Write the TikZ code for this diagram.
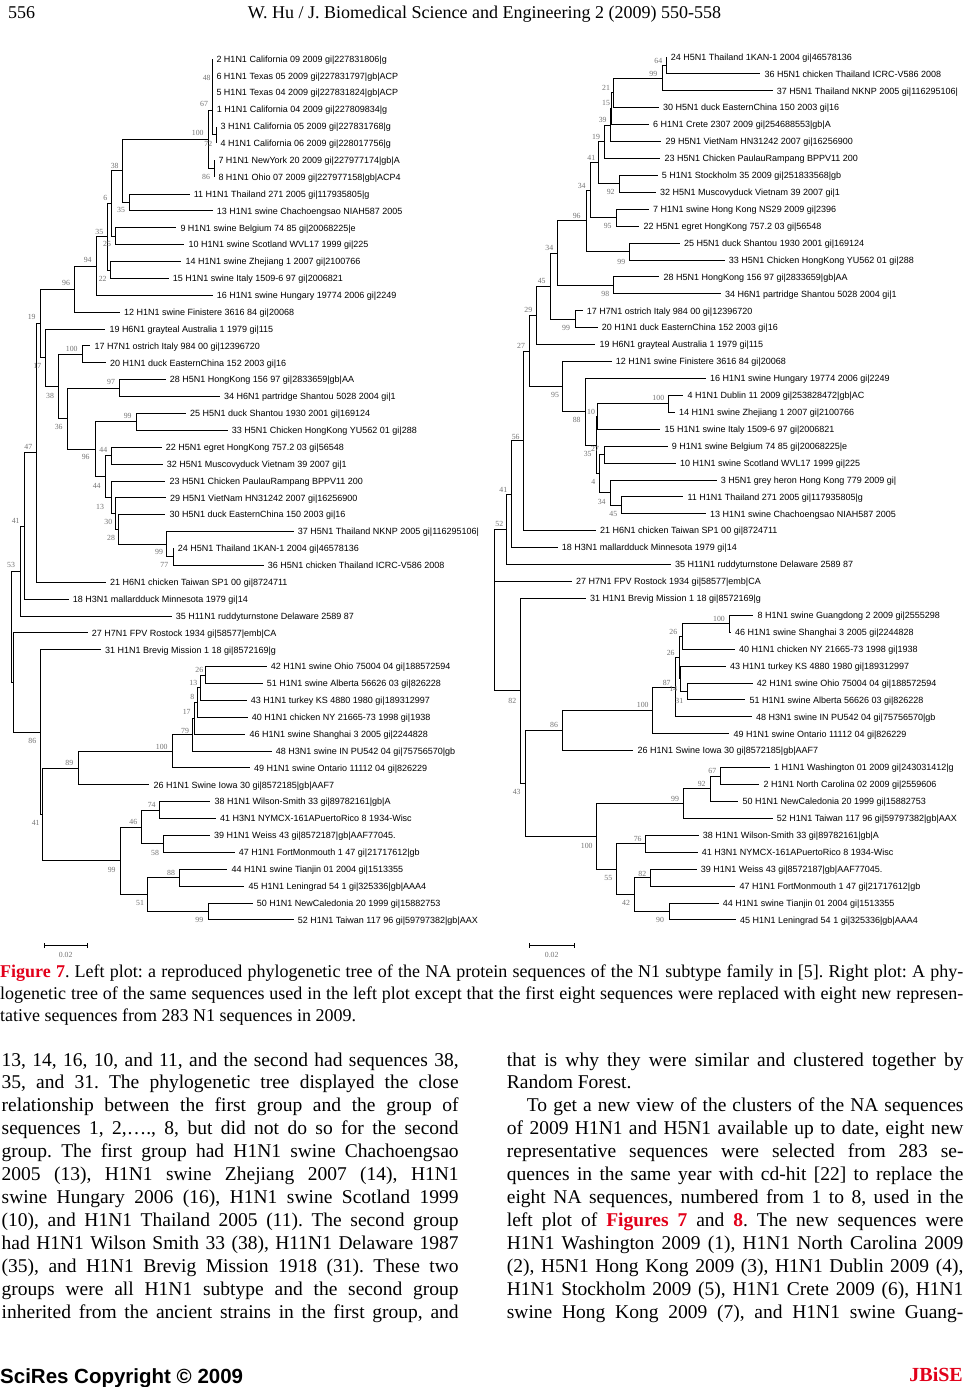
\documentclass[tikz,border=0pt]{standalone}
\usepackage{fontspec}
\usepackage{graphicx}
\setmainfont{Liberation Serif}
\newfontfamily\arialf{Liberation Sans}
\definecolor{jred}{RGB}{226,0,26}
\definecolor{bsgray}{RGB}{115,115,115}
\newsavebox\lbox
\newcommand\jline[2]{\sbox\lbox{#2}\ifdim\wd\lbox>#1\relax\resizebox{#1}{\height}{\usebox\lbox}\else\makebox[#1][s]{#2}\fi}
\newcounter{bsn}
\newcommand\LF[4]{\coordinate (#1) at (#2,#3); \node[lf] (#1t) at (#1) {#4};}
\newcommand\IN[3]{\coordinate (#1) at (#2,#3);}
\newcommand\ED[2]{\foreach \kid in {#2}{\draw[br] (#1) |- (\kid);}}
\newcommand\BS[3]{\stepcounter{bsn}\node[bs] (bs\thebsn) at (#1,#2) {#3};}
\tikzset{
 br/.style={line width=1pt, black},
 lf/.style={anchor=west, inner sep=0pt, xshift=4pt, font=\arialf\fontsize{9}{10}\selectfont, text height=6.45pt, text depth=0pt},
 bs/.style={inner sep=0pt, font=\fontsize{7.8}{8}\selectfont, text=bsgray, text height=5.3pt, text depth=0pt},
 body/.style={anchor=base west, inner sep=0pt, font=\fontsize{19.5}{23}\selectfont},
 capt/.style={anchor=base west, inner sep=0pt, font=\fontsize{18}{22}\selectfont},
}
\begin{document}
\frenchspacing
\begin{tikzpicture}[x=1pt,y=-1pt]
\fill[white] (0,0) rectangle (965,1387);
\useasboundingbox (0,0) rectangle (965,1387);

% ---------------- header
\node[anchor=base west, inner sep=0pt, font=\fontsize{18}{20}\selectfont] (pgno) at (8,18) {556};
\node[anchor=base, inner sep=0pt, font=\fontsize{18}{20}\selectfont] (hdr) at (484.5,18) {W. Hu / J. Biomedical Science and Engineering 2 (2009) 550-558};

% ---------------- left tree leaves
\LF{l1}{212.3}{59}{2 H1N1 California 09 2009 gi|227831806|g}
\LF{l2}{212.3}{75.88}{6 H1N1 Texas 05 2009 gi|227831797|gb|ACP}
\LF{l3}{212.3}{92.76}{5 H1N1 Texas 04 2009 gi|227831824|gb|ACP}
\LF{l4}{212.7}{109.64}{1 H1N1 California 04 2009 gi|227809834|g}
\LF{l5}{216.5}{126.52}{3 H1N1 California 05 2009 gi|227831768|g}
\LF{l6}{216.5}{143.4}{4 H1N1 California 06 2009 gi|228017756|g}
\LF{l7}{214.3}{160.28}{7 H1N1 NewYork 20 2009 gi|227977174|gb|A}
\LF{l8}{214.3}{177.16}{8 H1N1 Ohio 07 2009 gi|227977158|gb|ACP4}
\LF{l9}{189.7}{194.04}{11 H1N1 Thailand 271 2005 gi|117935805|g}
\LF{l10}{212.7}{210.92}{13 H1N1 swine Chachoengsao NIAH587 2005}
\LF{l11}{176.3}{227.8}{9 H1N1 swine Belgium 74 85 gi|20068225|e}
\LF{l12}{184.3}{244.68}{10 H1N1 swine Scotland WVL17 1999 gi|225}
\LF{l13}{181.3}{261.56}{14 H1N1 swine Zhejiang 1 2007 gi|2100766}
\LF{l14}{168.7}{278.44}{15 H1N1 swine Italy 1509-6 97 gi|2006821}
\LF{l15}{212.7}{295.32}{16 H1N1 swine Hungary 19774 2006 gi|2249}
\LF{l16}{120}{312.2}{12 H1N1 swine Finistere 3616 84 gi|20068}
\LF{l17}{105.3}{329.08}{19 H6N1 grayteal Australia 1 1979 gi|115}
\LF{l18}{90.3}{345.96}{17 H7N1 ostrich Italy 984 00 gi|12396720}
\LF{l19}{106}{362.84}{20 H1N1 duck EasternChina 152 2003 gi|16}
\LF{l20}{165.7}{379.72}{28 H5N1 HongKong 156 97 gi|2833659|gb|AA}
\LF{l21}{220}{396.6}{34 H6N1 partridge Shantou 5028 2004 gi|1}
\LF{l22}{186}{413.48}{25 H5N1 duck Shantou 1930 2001 gi|169124}
\LF{l23}{227.7}{430.36}{33 H5N1 Chicken HongKong YU562 01 gi|288}
\LF{l24}{161.7}{447.24}{22 H5N1 egret HongKong 757.2 03 gi|56548}
\LF{l25}{162.7}{464.12}{32 H5N1 Muscovyduck Vietnam 39 2007 gi|1}
\LF{l26}{165.3}{481}{23 H5N1 Chicken PaulauRampang BPPV11 200}
\LF{l27}{166}{497.88}{29 H5N1 VietNam HN31242 2007 gi|16256900}
\LF{l28}{165.3}{514.76}{30 H5N1 duck EasternChina 150 2003 gi|16}
\LF{l29}{293.7}{531.64}{37 H5N1 Thailand NKNP 2005 gi|116295106|}
\LF{l30}{173.7}{548.52}{24 H5N1 Thailand 1KAN-1 2004 gi|46578136}
\LF{l31}{263.7}{565.4}{36 H5N1 chicken Thailand ICRC-V586 2008}
\LF{l32}{106}{582.28}{21 H6N1 chicken Taiwan SP1 00 gi|8724711}
\LF{l33}{68.7}{599.16}{18 H3N1 mallardduck Minnesota 1979 gi|14}
\LF{l34}{171.7}{616.04}{35 H11N1 ruddyturnstone Delaware 2589 87}
\LF{l35}{87.7}{632.92}{27 H7N1 FPV Rostock 1934 gi|58577|emb|CA}
\LF{l36}{101}{649.8}{31 H1N1 Brevig Mission 1 18 gi|8572169|g}
\LF{l37}{266.7}{666.68}{42 H1N1 swine Ohio 75004 04 gi|188572594}
\LF{l38}{262.7}{683.56}{51 H1N1 swine Alberta 56626 03 gi|826228}
\LF{l39}{246.7}{700.44}{43 H1N1 turkey KS 4880 1980 gi|189312997}
\LF{l40}{247.7}{717.32}{40 H1N1 chicken NY 21665-73 1998 gi|1938}
\LF{l41}{245.3}{734.2}{46 H1N1 swine Shanghai 3 2005 gi|2244828}
\LF{l42}{271.7}{751.08}{48 H3N1 swine IN PU542 04 gi|75756570|gb}
\LF{l43}{250}{767.96}{49 H1N1 swine Ontario 11112 04 gi|826229}
\LF{l44}{149.3}{784.84}{26 H1N1 Swine Iowa 30 gi|8572185|gb|AAF7}
\LF{l45}{210.3}{801.72}{38 H1N1 Wilson-Smith 33 gi|89782161|gb|A}
\LF{l46}{216}{818.6}{41 H3N1 NYMCX-161APuertoRico 8 1934-Wisc}
\LF{l47}{210}{835.48}{39 H1N1 Weiss 43 gi|8572187|gb|AAF77045.}
\LF{l48}{234.7}{852.36}{47 H1N1 FortMonmouth 1 47 gi|21717612|gb}
\LF{l49}{227.3}{869.24}{44 H1N1 swine Tianjin 01 2004 gi|1513355}
\LF{l50}{244.3}{886.12}{45 H1N1 Leningrad 54 1 gi|325336|gb|AAA4}
\LF{l51}{252.7}{903}{50 H1N1 NewCaledonia 20 1999 gi|15882753}
\LF{l52}{293.7}{919.88}{52 H1N1 Taiwan 117 96 gi|59797382|gb|AAX}

% left internal nodes
\IN{La72}{216.5}{134.96}
\IN{La67}{212.3}{110}
\IN{La86}{214.3}{168.72}
\IN{La100}{208.3}{139.36}
\IN{Lb35}{129.3}{202.48}
\IN{La38}{122.7}{170.92}
\IN{La25}{115.3}{236.24}
\IN{La6}{111.7}{203.58}
\IN{La22}{110.3}{270}
\IN{Lc35}{107.3}{236.79}
\IN{La94}{96.3}{266.06}
\IN{La96}{74}{289.13}
\IN{Lb100}{82.7}{354.4}
\IN{La97}{119.3}{388.16}
\IN{La99}{136.7}{421.92}
\IN{La44}{111}{455.68}
\IN{La77}{173.3}{556.96}
\IN{Lb99}{166}{544.3}
\IN{La28}{118.3}{529.53}
\IN{La30}{115.7}{513.7}
\IN{La13}{111}{497.35}
\IN{Lb44}{105.3}{476.52}
\IN{Lb96}{95}{449.22}
\IN{La36}{67.3}{418.69}
\IN{Lb38}{58.7}{386.55}
\IN{La17}{45.3}{357.82}
\IN{La19}{40.7}{323.47}
\IN{La47}{36}{452.88}
\IN{La41}{24.3}{526.02}
\IN{La53}{20}{571.03}
\IN{La26}{205.3}{675.12}
\IN{Lb13}{200.3}{687.78}
\IN{La8}{197.7}{702.55}
\IN{Lb17}{194.3}{718.38}
\IN{La79}{192.7}{734.73}
\IN{Lc100}{172.3}{751.35}
\IN{La89}{78.3}{768.1}
\IN{La74}{159.3}{810.16}
\IN{La58}{163.3}{843.92}
\IN{La46}{141.7}{827.04}
\IN{La88}{179.3}{877.68}
\IN{Ld99}{208.3}{911.44}
\IN{La51}{147.3}{894.56}
\IN{Lc99}{120.3}{860.8}
\IN{Lb41}{42}{814.45}
\IN{Lb86}{40.7}{732.13}
\IN{Lx}{13.3}{682.52}
\IN{Lroot}{11.7}{626.78}

\ED{La72}{l5,l6}
\ED{La67}{l1,l2,l3,l4,La72}
\ED{La86}{l7,l8}
\ED{La100}{La67,La86}
\ED{Lb35}{l9,l10}
\ED{La38}{La100,Lb35}
\ED{La25}{l11,l12}
\ED{La6}{La38,La25}
\ED{La22}{l13,l14}
\ED{Lc35}{La6,La22}
\ED{La94}{Lc35,l15}
\ED{La96}{La94,l16}
\ED{Lb100}{l18,l19}
\ED{La97}{l20,l21}
\ED{La99}{l22,l23}
\ED{La44}{l24,l25}
\ED{La77}{l30,l31}
\ED{Lb99}{l29,La77}
\ED{La28}{l28,Lb99}
\ED{La30}{l27,La28}
\ED{La13}{l26,La30}
\ED{Lb44}{La44,La13}
\ED{Lb96}{La99,Lb44}
\ED{La36}{La97,Lb96}
\ED{Lb38}{Lb100,La36}
\ED{La17}{l17,Lb38}
\ED{La19}{La96,La17}
\ED{La47}{La19,l32}
\ED{La41}{La47,l33}
\ED{La53}{La41,l34}
\ED{La26}{l37,l38}
\ED{Lb13}{La26,l39}
\ED{La8}{Lb13,l40}
\ED{Lb17}{La8,l41}
\ED{La79}{Lb17,l42}
\ED{Lc100}{La79,l43}
\ED{La89}{Lc100,l44}
\ED{La74}{l45,l46}
\ED{La58}{l47,l48}
\ED{La46}{La74,La58}
\ED{La88}{l49,l50}
\ED{Ld99}{l51,l52}
\ED{La51}{La88,Ld99}
\ED{Lc99}{La46,La51}
\ED{Lb41}{La89,Lc99}
\ED{Lb86}{l36,Lb41}
\ED{Lx}{l35,Lb86}
\ED{Lroot}{La53,Lx}

% left bootstrap values
\BS{206.7}{78.3}{48}
\BS{204}{104.3}{67}
\BS{197.7}{133.3}{100}
\BS{208.3}{143.7}{72}
\BS{206}{176.7}{86}
\BS{114.7}{165.7}{38}
\BS{121}{210}{35}
\BS{105.3}{198.3}{6}
\BS{99.3}{231.7}{35}
\BS{107}{244}{25}
\BS{87.7}{260}{94}
\BS{102.7}{279}{22}
\BS{66}{283.3}{96}
\BS{31.7}{317.3}{19}
\BS{37.3}{365.7}{17}
\BS{71.7}{349}{100}
\BS{50}{395.7}{38}
\BS{58.7}{427.3}{36}
\BS{111}{382.3}{97}
\BS{127.7}{416.3}{99}
\BS{85.7}{457.3}{96}
\BS{103.3}{450.3}{44}
\BS{96.7}{486}{44}
\BS{28.3}{447.3}{47}
\BS{100}{507.3}{13}
\BS{108.3}{522.3}{30}
\BS{111}{537.7}{28}
\BS{159}{552.3}{99}
\BS{164.3}{565}{77}
\BS{15.7}{520.7}{41}
\BS{11}{565}{53}
\BS{199.3}{670}{26}
\BS{193.3}{682.7}{13}
\BS{192.3}{697.3}{8}
\BS{186.7}{711.7}{17}
\BS{185}{730.7}{79}
\BS{161.7}{746.7}{100}
\BS{32.3}{741}{86}
\BS{69.3}{763.3}{89}
\BS{35.7}{823.3}{41}
\BS{151.7}{805}{74}
\BS{133.3}{822.3}{46}
\BS{155}{852.7}{58}
\BS{111.7}{870.3}{99}
\BS{171}{873.3}{88}
\BS{140}{903.3}{51}
\BS{199.3}{920}{99}

% left scale bar
\coordinate (sbL1) at (44.3,945.7);
\coordinate (sbL2) at (87.3,945.7);
\draw[br] (sbL1) -- (sbL2);
\draw[br] ([yshift=2.5pt]sbL1) -- ([yshift=-2.5pt]sbL1);
\draw[br] ([yshift=2.5pt]sbL2) -- ([yshift=-2.5pt]sbL2);
\node[bs] (sbLt) at (65.7,955) {0.02};

% ---------------- right tree leaves
\LF{r1}{666.7}{57}{24 H5N1 Thailand 1KAN-1 2004 gi|46578136}
\LF{r2}{760.3}{73.92}{36 H5N1 chicken Thailand ICRC-V586 2008}
\LF{r3}{772.7}{90.84}{37 H5N1 Thailand NKNP 2005 gi|116295106|}
\LF{r4}{659}{107.76}{30 H5N1 duck EasternChina 150 2003 gi|16}
\LF{r5}{649}{124.68}{6 H1N1 Crete 2307 2009 gi|254688553|gb|A}
\LF{r6}{661.3}{141.6}{29 H5N1 VietNam HN31242 2007 gi|16256900}
\LF{r7}{660.3}{158.52}{23 H5N1 Chicken PaulauRampang BPPV11 200}
\LF{r8}{657.7}{175.44}{5 H1N1 Stockholm 35 2009 gi|251833568|gb}
\LF{r9}{656}{192.36}{32 H5N1 Muscovyduck Vietnam 39 2007 gi|1}
\LF{r10}{649}{209.28}{7 H1N1 swine Hong Kong NS29 2009 gi|2396}
\LF{r11}{639.3}{226.2}{22 H5N1 egret HongKong 757.2 03 gi|56548}
\LF{r12}{680}{243.12}{25 H5N1 duck Shantou 1930 2001 gi|169124}
\LF{r13}{724.7}{260.04}{33 H5N1 Chicken HongKong YU562 01 gi|288}
\LF{r14}{659.3}{276.96}{28 H5N1 HongKong 156 97 gi|2833659|gb|AA}
\LF{r15}{721}{293.88}{34 H6N1 partridge Shantou 5028 2004 gi|1}
\LF{r16}{582.7}{310.8}{17 H7N1 ostrich Italy 984 00 gi|12396720}
\LF{r17}{597.7}{327.72}{20 H1N1 duck EasternChina 152 2003 gi|16}
\LF{r18}{595.3}{344.64}{19 H6N1 grayteal Australia 1 1979 gi|115}
\LF{r19}{611.7}{361.56}{12 H1N1 swine Finistere 3616 84 gi|20068}
\LF{r20}{706}{378.48}{16 H1N1 swine Hungary 19774 2006 gi|2249}
\LF{r21}{683.3}{395.4}{4 H1N1 Dublin 11 2009 gi|253828472|gb|AC}
\LF{r22}{675}{412.32}{14 H1N1 swine Zhejiang 1 2007 gi|2100766}
\LF{r23}{660.3}{429.24}{15 H1N1 swine Italy 1509-6 97 gi|2006821}
\LF{r24}{667.7}{446.16}{9 H1N1 swine Belgium 74 85 gi|20068225|e}
\LF{r25}{676}{463.08}{10 H1N1 swine Scotland WVL17 1999 gi|225}
\LF{r26}{716.7}{480}{3 H5N1 grey heron Hong Kong 779 2009 gi|}
\LF{r27}{683.3}{496.92}{11 H1N1 Thailand 271 2005 gi|117935805|g}
\LF{r28}{706}{513.84}{13 H1N1 swine Chachoengsao NIAH587 2005}
\LF{r29}{596}{530.76}{21 H6N1 chicken Taiwan SP1 00 gi|8724711}
\LF{r30}{557.7}{547.68}{18 H3N1 mallardduck Minnesota 1979 gi|14}
\LF{r31}{671}{564.6}{35 H11N1 ruddyturnstone Delaware 2589 87}
\LF{r32}{572}{581.52}{27 H7N1 FPV Rostock 1934 gi|58577|emb|CA}
\LF{r33}{586}{598.44}{31 H1N1 Brevig Mission 1 18 gi|8572169|g}
\LF{r34}{753.3}{615.36}{8 H1N1 swine Guangdong 2 2009 gi|2555298}
\LF{r35}{731}{632.28}{46 H1N1 swine Shanghai 3 2005 gi|2244828}
\LF{r36}{735}{649.2}{40 H1N1 chicken NY 21665-73 1998 gi|1938}
\LF{r37}{726}{666.12}{43 H1N1 turkey KS 4880 1980 gi|189312997}
\LF{r38}{752.7}{683.04}{42 H1N1 swine Ohio 75004 04 gi|188572594}
\LF{r39}{745.3}{699.96}{51 H1N1 swine Alberta 56626 03 gi|826228}
\LF{r40}{752}{716.88}{48 H3N1 swine IN PU542 04 gi|75756570|gb}
\LF{r41}{729.3}{733.8}{49 H1N1 swine Ontario 11112 04 gi|826229}
\LF{r42}{633.3}{750.72}{26 H1N1 Swine Iowa 30 gi|8572185|gb|AAF7}
\LF{r43}{770}{767.64}{1 H1N1 Washington 01 2009 gi|243031412|g}
\LF{r44}{759.3}{784.56}{2 H1N1 North Carolina 02 2009 gi|2559606}
\LF{r45}{738.3}{801.48}{50 H1N1 NewCaledonia 20 1999 gi|15882753}
\LF{r46}{772.7}{818.4}{52 H1N1 Taiwan 117 96 gi|59797382|gb|AAX}
\LF{r47}{698.7}{835.32}{38 H1N1 Wilson-Smith 33 gi|89782161|gb|A}
\LF{r48}{697.7}{852.24}{41 H3N1 NYMCX-161APuertoRico 8 1934-Wisc}
\LF{r49}{696.7}{869.16}{39 H1N1 Weiss 43 gi|8572187|gb|AAF77045.}
\LF{r50}{735.3}{886.08}{47 H1N1 FortMonmouth 1 47 gi|21717612|gb}
\LF{r51}{718.7}{903}{44 H1N1 swine Tianjin 01 2004 gi|1513355}
\LF{r52}{736}{919.92}{45 H1N1 Leningrad 54 1 gi|325336|gb|AAA4}

% right internal nodes
\IN{Ra64}{666}{65.46}
\IN{Ra99}{662.3}{78.15}
\IN{Ra21}{613.3}{92.96}
\IN{Ra15}{611.7}{108.82}
\IN{Ra39}{610.7}{125.21}
\IN{Ra19}{604.3}{141.87}
\IN{Ra92}{619.3}{183.9}
\IN{Ra41}{598.3}{162.89}
\IN{Ra95}{616.7}{217.74}
\IN{Ra34}{590}{190.32}
\IN{Rb99}{629.3}{251.58}
\IN{Ra96}{586}{220.95}
\IN{Ra98}{613.3}{285.42}
\IN{Rb34}{557.3}{253.19}
\IN{Rc99}{575}{319.26}
\IN{Ra45}{550}{286.23}
\IN{Ra29}{536.7}{315.43}
\IN{Ra100}{668.3}{403.86}
\IN{Ra10}{597.3}{416.55}
\IN{Ra27}{604.3}{454.62}
\IN{Rb45}{621.7}{505.38}
\IN{Rc34}{610}{492.69}
\IN{Ra4}{599.3}{473.66}
\IN{Ra35}{596.3}{445.1}
\IN{Ra88}{585.3}{411.79}
\IN{Rb95}{562.7}{386.68}
\IN{Rb27}{529.3}{351.05}
\IN{Ra56}{523.3}{440.9}
\IN{Rb41}{511.7}{494.29}
\IN{Ra52}{506}{529.45}
\IN{Rb100}{729.3}{623.82}
\IN{Ra26}{682.3}{636.51}
\IN{Ra31}{687.3}{691.5}
\IN{Ra14}{680}{678.81}
\IN{Rb26}{679}{657.66}
\IN{Ra87}{675}{687.27}
\IN{Rc100}{652.3}{710.54}
\IN{Ra86}{562.7}{730.63}
\IN{Ra67}{720}{776.1}
\IN{Rb92}{710}{788.79}
\IN{Rd99}{683.3}{803.6}
\IN{Ra76}{645.7}{843.78}
\IN{Ra82}{650.7}{877.62}
\IN{Ra90}{669.3}{911.46}
\IN{Ra42}{634.3}{894.54}
\IN{Ra55}{616.7}{869.16}
\IN{Rd100}{596}{836.38}
\IN{Ra43}{525.7}{783.5}
\IN{Rb82}{520.7}{690.97}
\IN{Rroot}{494.3}{610}

\ED{Ra64}{r1,r2}
\ED{Ra99}{Ra64,r3}
\ED{Ra21}{Ra99,r4}
\ED{Ra15}{Ra21,r5}
\ED{Ra39}{Ra15,r6}
\ED{Ra19}{Ra39,r7}
\ED{Ra92}{r8,r9}
\ED{Ra41}{Ra19,Ra92}
\ED{Ra95}{r10,r11}
\ED{Ra34}{Ra41,Ra95}
\ED{Rb99}{r12,r13}
\ED{Ra96}{Ra34,Rb99}
\ED{Ra98}{r14,r15}
\ED{Rb34}{Ra96,Ra98}
\ED{Rc99}{r16,r17}
\ED{Ra45}{Rb34,Rc99}
\ED{Ra29}{Ra45,r18}
\ED{Ra100}{r21,r22}
\ED{Ra10}{Ra100,r23}
\ED{Ra27}{r24,r25}
\ED{Rb45}{r27,r28}
\ED{Rc34}{r26,Rb45}
\ED{Ra4}{Ra27,Rc34}
\ED{Ra35}{Ra10,Ra4}
\ED{Ra88}{r20,Ra35}
\ED{Rb95}{r19,Ra88}
\ED{Rb27}{Ra29,Rb95}
\ED{Ra56}{Rb27,r29}
\ED{Rb41}{Ra56,r30}
\ED{Ra52}{Rb41,r31}
\ED{Rb100}{r34,r35}
\ED{Ra26}{Rb100,r36}
\ED{Ra31}{r38,r39}
\ED{Ra14}{r37,Ra31}
\ED{Rb26}{Ra26,Ra14}
\ED{Ra87}{Rb26,r40}
\ED{Rc100}{Ra87,r41}
\ED{Ra86}{Rc100,r42}
\ED{Ra67}{r43,r44}
\ED{Rb92}{Ra67,r45}
\ED{Rd99}{Rb92,r46}
\ED{Ra76}{r47,r48}
\ED{Ra82}{r49,r50}
\ED{Ra90}{r51,r52}
\ED{Ra42}{Ra82,Ra90}
\ED{Ra55}{Ra76,Ra42}
\ED{Rd100}{Rd99,Ra55}
\ED{Ra43}{Ra86,Rd100}
\ED{Rb82}{r33,Ra43}
\ED{Rroot}{Ra52,r32,Rb82}

% right bootstrap values
\BS{658.3}{60.7}{64}
\BS{653.3}{74.3}{99}
\BS{606}{87.7}{21}
\BS{606}{103.3}{15}
\BS{602.7}{120}{39}
\BS{596}{136.7}{19}
\BS{591.3}{157.7}{41}
\BS{610.7}{192.3}{92}
\BS{581.7}{185.7}{34}
\BS{607.7}{226}{95}
\BS{576.7}{216}{96}
\BS{621.3}{261.7}{99}
\BS{549.3}{248.3}{34}
\BS{605.3}{294.3}{98}
\BS{541.7}{281}{45}
\BS{566}{328.3}{99}
\BS{528.3}{310}{29}
\BS{521}{346}{27}
\BS{555}{395}{95}
\BS{576.7}{420}{88}
\BS{658.3}{398.3}{100}
\BS{591}{411.7}{10}
\BS{587.7}{454}{35}
\BS{595}{449}{27}
\BS{593.3}{482.3}{4}
\BS{601.7}{501.7}{34}
\BS{613.3}{514}{45}
\BS{515.7}{436.7}{56}
\BS{503.3}{490}{41}
\BS{499.3}{524.3}{52}
\BS{719}{619.3}{100}
\BS{673.3}{631.7}{26}
\BS{670.7}{653.3}{26}
\BS{666.7}{682.7}{87}
\BS{673.3}{689}{14}
\BS{679.3}{700.7}{31}
\BS{642.7}{705}{100}
\BS{512.3}{700.7}{82}
\BS{554}{725}{86}
\BS{516.7}{792.3}{43}
\BS{712.3}{771}{67}
\BS{701.7}{784.3}{92}
\BS{675}{799.3}{99}
\BS{586.7}{845.7}{100}
\BS{637.7}{839}{76}
\BS{608.3}{878.3}{55}
\BS{642.3}{874.3}{82}
\BS{626}{903.3}{42}
\BS{660}{920}{90}

% right scale bar
\coordinate (sbR1) at (529.3,945.7);
\coordinate (sbR2) at (574.3,945.7);
\draw[br] (sbR1) -- (sbR2);
\draw[br] ([yshift=2.5pt]sbR1) -- ([yshift=-2.5pt]sbR1);
\draw[br] ([yshift=2.5pt]sbR2) -- ([yshift=-2.5pt]sbR2);
\node[bs] (sbRt) at (551.7,955) {0.02};

% ---------------- caption
\node[capt] (cap1) at (0,977) {\jline{963pt}{\textcolor{jred}{\textbf{Figure 7}}. Left plot: a reproduced phylogenetic tree of the NA protein sequences of the N1 subtype family in [5]. Right plot: A phy-}};
\node[capt] (cap2) at (0,999) {\jline{963pt}{logenetic tree of the same sequences used in the left plot except that the first eight sequences were replaced with eight new represen-}};
\node[capt] (cap3) at (0,1021) {tative sequences from 283 N1 sequences in 2009.};

% ---------------- body text, left column
\node[body] (bl1) at (1.5,1066) {\jline{457pt}{13, 14, 16, 10, and 11, and the second had sequences 38,}};
\node[body] (bl2) at (1.5,1088.95) {\jline{457pt}{35, and 31. The phylogenetic tree displayed the close}};
\node[body] (bl3) at (1.5,1111.9) {\jline{457pt}{relationship between the first group and the group of}};
\node[body] (bl4) at (1.5,1134.85) {\jline{457pt}{sequences 1, 2,…., 8, but did not do so for the second}};
\node[body] (bl5) at (1.5,1157.8) {\jline{457pt}{group. The first group had H1N1 swine Chachoengsao}};
\node[body] (bl6) at (1.5,1180.75) {\jline{457pt}{2005 (13), H1N1 swine Zhejiang 2007 (14), H1N1}};
\node[body] (bl7) at (1.5,1203.7) {\jline{457pt}{swine Hungary 2006 (16), H1N1 swine Scotland 1999}};
\node[body] (bl8) at (1.5,1226.65) {\jline{457pt}{(10), and H1N1 Thailand 2005 (11). The second group}};
\node[body] (bl9) at (1.5,1249.6) {\jline{457pt}{had H1N1 Wilson Smith 33 (38), H11N1 Delaware 1987}};
\node[body] (bl10) at (1.5,1272.55) {\jline{457pt}{(35), and H1N1 Brevig Mission 1918 (31). These two}};
\node[body] (bl11) at (1.5,1295.5) {\jline{457pt}{groups were all H1N1 subtype and the second group}};
\node[body] (bl12) at (1.5,1318.45) {\jline{457pt}{inherited from the ancient strains in the first group, and}};

% ---------------- body text, right column
\node[body] (br1) at (506.7,1066) {\jline{456.6pt}{that is why they were similar and clustered together by}};
\node[body] (br2) at (506.7,1088.95) {Random Forest.};
\node[body] (br3) at (526.7,1111.9) {\jline{436.6pt}{To get a new view of the clusters of the NA sequences}};
\node[body] (br4) at (506.7,1134.85) {\jline{456.6pt}{of 2009 H1N1 and H5N1 available up to date, eight new}};
\node[body] (br5) at (506.7,1157.8) {\jline{456.6pt}{representative sequences were selected from 283 se-}};
\node[body] (br6) at (506.7,1180.75) {\jline{456.6pt}{quences in the same year with cd-hit [22] to replace the}};
\node[body] (br7) at (506.7,1203.7) {\jline{456.6pt}{eight NA sequences, numbered from 1 to 8, used in the}};
\node[body] (br8) at (506.7,1226.65) {\jline{456.6pt}{left plot of \textcolor{jred}{\textbf{Figures 7}} and \textcolor{jred}{\textbf{8}}. The new sequences were}};
\node[body] (br9) at (506.7,1249.6) {\jline{456.6pt}{H1N1 Washington 2009 (1), H1N1 North Carolina 2009}};
\node[body] (br10) at (506.7,1272.55) {\jline{456.6pt}{(2), H5N1 Hong Kong 2009 (3), H1N1 Dublin 2009 (4),}};
\node[body] (br11) at (506.7,1295.5) {\jline{456.6pt}{H1N1 Stockholm 2009 (5), H1N1 Crete 2009 (6), H1N1}};
\node[body] (br12) at (506.7,1318.45) {\jline{456.6pt}{swine Hong Kong 2009 (7), and H1N1 swine Guang-}};

% ---------------- footer
\node[anchor=base west, inner sep=0pt, font=\arialf\bfseries\fontsize{20.5}{22}\selectfont] (foot) at (0,1383) {SciRes Copyright © 2009};
\node[anchor=base east, inner sep=0pt, font=\bfseries\fontsize{20}{22}\selectfont, text=jred] (jbise) at (963,1381) {JBiSE};
\end{tikzpicture}
\end{document}
